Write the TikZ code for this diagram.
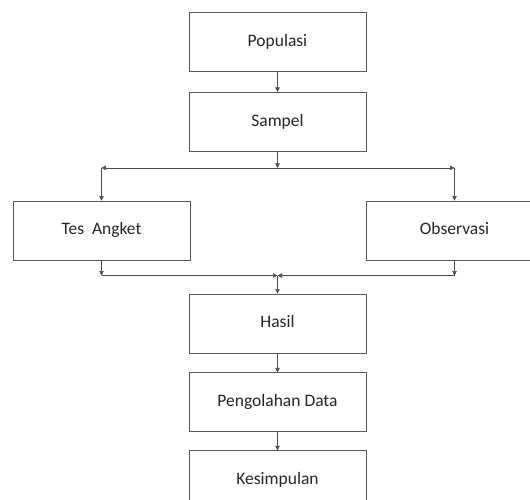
\documentclass[tikz,border=0pt]{standalone}
\usepackage{fontspec}
\setmainfont{Carlito}
\usepackage{tikz}
\usetikzlibrary{positioning,arrows.meta}
\definecolor{boxcolor}{rgb}{0.35, 0.35, 0.35}
\definecolor{linecolor}{rgb}{0.30, 0.30, 0.30}

\begin{document}
\begin{tikzpicture}[
			x=1pt, y=1pt,
			>={Triangle[length=4.5pt, width=4.5pt]},
			box/.style={rectangle, draw=boxcolor, line width=0.9pt, minimum width=177pt, minimum height=59pt, inner sep=0pt, text height=12pt, text depth=3.5pt, text=black!85, font=\fontsize{17.5}{20}\selectfont},
			flow/.style={->, draw=linecolor, line width=0.6pt},
		]

		\useasboundingbox (0,0) rectangle (530,-500);
		\clip (0,0) rectangle (530,-500);

		\node[box] (pop)  at (277.5,-42)           {Populasi};
		\node[box] (samp) [below=20pt of pop]     {Sampel};
		\node[box] (tes)  at (101.5,-230.5)        {Tes\ \ Angket};
		\node[box] (obs)  at (454.5,-230.5)        {Observasi};
		\node[box] (hasil) at (277.5,-323.5)       {Hasil};
		\node[box] (olah) [below=19pt of hasil]   {Pengolahan Data};
		\node[box] (kes)  [below=18pt of olah]    {Kesimpulan};

		% branch to the two instruments
		\coordinate[below=16pt of samp] (split);
		\coordinate (splitL) at (split -| tes);
		\coordinate (splitR) at (split -| obs);

		% joining back above Hasil
		\coordinate[above=18pt of hasil] (join);
		\coordinate (joinL) at (join -| tes);
		\coordinate (joinR) at (join -| obs);

		\draw[flow] (pop) -- (samp);
		\draw[flow] (samp) -- (split);
		\draw[flow] (split) -- (splitL);
		\draw[flow] (splitL) -- (tes);
		\draw[flow] (split) -- (splitR);
		\draw[flow] (splitR) -- (obs);

		\draw[flow] (tes) -- (joinL);
		\draw[flow] (joinL) -- (join);
		\draw[flow] (obs) -- (joinR);
		\draw[flow] (joinR) -- (join);
		\draw[flow] (join) -- (hasil);

		\draw[flow] (hasil) -- (olah);
		\draw[flow] (olah) -- (kes);

		\end{tikzpicture}
\end{document}
